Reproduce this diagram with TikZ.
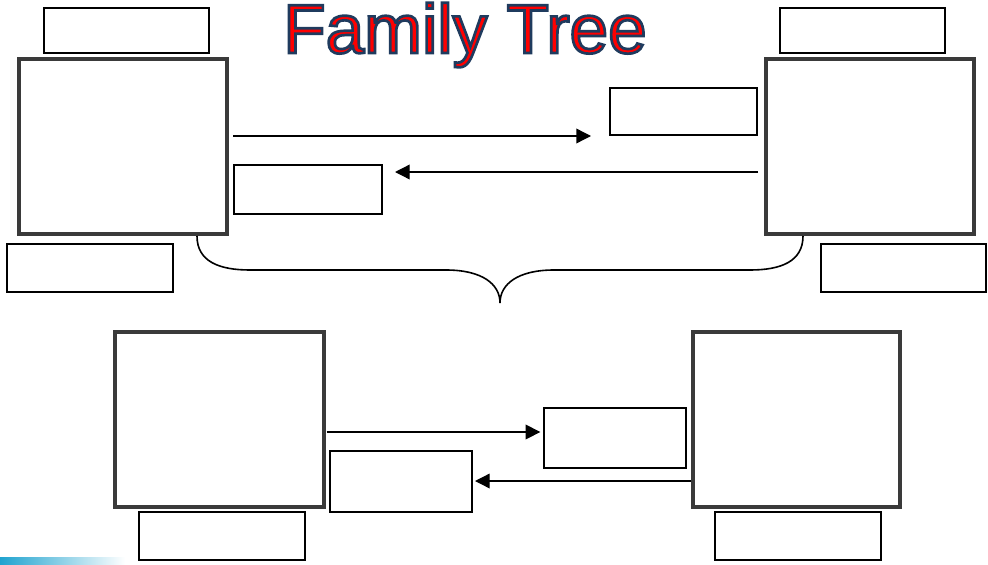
\documentclass[tikz,border=0pt]{standalone}
\usepackage{fontspec}
\setmainfont{Liberation Sans}
\usetikzlibrary{arrows.meta,fit}
\definecolor{boxgray}{HTML}{3A3A3A}
\definecolor{titlered}{HTML}{FF0000}
\definecolor{stripcyan}{HTML}{1FA3CF}
\newcommand{\outlinedtext}[1]{\textcolor{titlered}{\special{pdf:code 2 Tr 0.12 0.23 0.37 RG 2 w}#1\special{pdf:code 0 Tr}}}
\tikzset{
  bigbox/.style={draw=boxgray, line width=3pt, inner sep=0pt, fill=white},
  smallbox/.style={draw=black, line width=1.5pt, inner sep=0pt, fill=white},
  arr/.style={-{Triangle[length=11pt,width=11pt]}, line width=1pt, draw=black},
  bracestyle/.style={line width=1.2pt, draw=black},
  titletext/.style={font=\fontsize{52}{60}\selectfont, inner sep=0pt, anchor=base}
}
\begin{document}
\begin{tikzpicture}[x=0.75pt,y=-0.75pt]
\useasboundingbox (0,0) rectangle (988,564);
% faint strip bottom-left
\shade[left color=stripcyan, right color=white, draw=none] (0,557) rectangle (125,564);
% title
\node[titletext] (title) at (465,53) {\outlinedtext{Family Tree}};
% top row
\node[smallbox, fit={(44,8) (209,53)}] (t1) {};
\node[bigbox, fit={(19,59) (227,234)}] (p1) {};
\node[smallbox, fit={(7,244) (173,292)}] (b1) {};
\node[smallbox, fit={(780,8) (945,53)}] (t2) {};
\node[bigbox, fit={(766,59) (974,234)}] (p2) {};
\node[smallbox, fit={(821,244) (986,292)}] (b2) {};
\node[smallbox, fit={(610,88) (757,135)}] (l1) {};
\node[smallbox, fit={(234,165) (382,214)}] (l2) {};
% bottom row
\node[bigbox, fit={(115,332) (324,507)}] (p3) {};
\node[smallbox, fit={(139,512) (305,560)}] (b3) {};
\node[bigbox, fit={(693,332) (900,507)}] (p4) {};
\node[smallbox, fit={(715,512) (881,560)}] (b4) {};
\node[smallbox, fit={(544,408) (686,468)}] (l3) {};
\node[smallbox, fit={(330,451) (472,512)}] (l4) {};
% arrow end points
\coordinate (a1end) at (591,136);
\coordinate (a2end) at (395,172);
% arrows
\draw[arr, shorten <=3pt] (p1.east |- a1end) -- (a1end);
\draw[arr, shorten <=4.5pt] (p2.west |- a2end) -- (a2end);
\draw[arr, shorten <=0.5pt, shorten >=2pt] (p3.east |- 0,432) -- (l3.west |- 0,432);
\draw[arr, shorten >=1.5pt] (p4.west |- 0,481) -- (l4.east |- 0,481);
% brace
\coordinate (brL) at (197,236);
\coordinate (brR) at (803,236);
\coordinate (brTip) at (500,303);
\draw[bracestyle] (brL) .. controls (197,262) and (220,270) .. (250,270) -- (446,270)
  .. controls (482,270) and (500,284) .. (brTip)
  .. controls (500,284) and (518,270) .. (554,270) -- (750,270)
  .. controls (780,270) and (803,262) .. (brR);
\end{tikzpicture}
\end{document}
